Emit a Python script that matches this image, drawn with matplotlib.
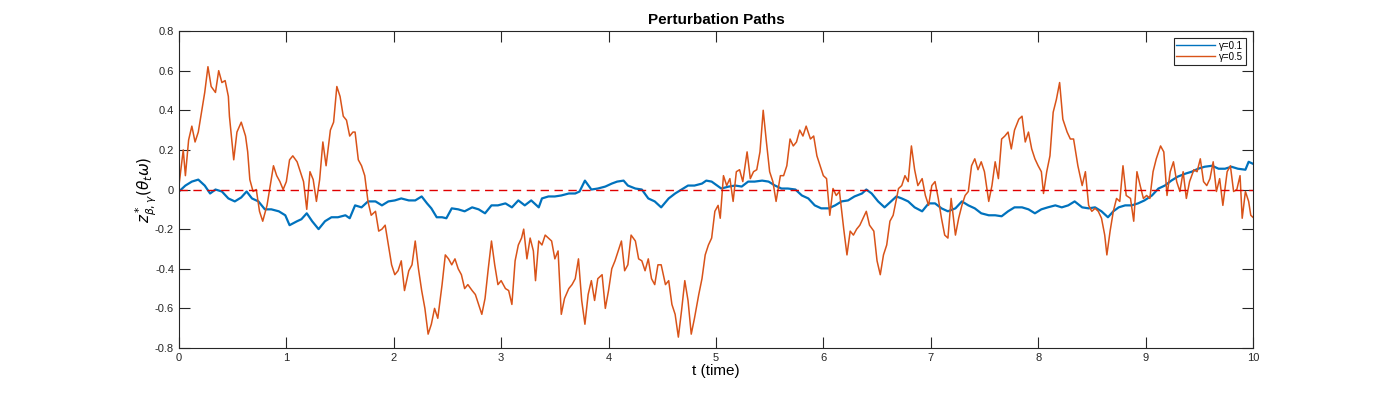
import numpy as np
import matplotlib
matplotlib.use("Agg")
import matplotlib.pyplot as plt

plt.rcParams['font.family'] = ['Liberation Sans', 'DejaVu Sans']
plt.rcParams['axes.unicode_minus'] = False

# gamma = 0.5 path
t_orange = [0.00, 0.04, 0.06, 0.09, 0.12, 0.15, 0.18, 0.21, 0.24, 0.27, 0.30, 0.34, 0.37, 0.40, 0.43, 0.46, 0.47, 0.51, 0.54, 0.58,
            0.62, 0.64, 0.66, 0.69, 0.72, 0.75, 0.78, 0.82, 0.85, 0.88, 0.91, 0.94, 0.97, 1.00, 1.03, 1.06, 1.10, 1.13, 1.16, 1.19,
            1.22, 1.25, 1.28, 1.31, 1.34, 1.37, 1.41, 1.44, 1.47, 1.50, 1.53, 1.56, 1.59, 1.62,
            1.64, 1.67, 1.70, 1.73, 1.76, 1.79, 1.83, 1.86, 1.89, 1.92, 1.95, 1.98, 2.01, 2.04, 2.07, 2.10, 2.14, 2.17, 2.20, 2.23,
            2.26, 2.29, 2.32, 2.35, 2.38, 2.41, 2.45, 2.48, 2.51, 2.54, 2.57, 2.60, 2.63, 2.66, 2.69, 2.73, 2.76, 2.79, 2.82, 2.85,
            2.88, 2.91, 2.94, 2.97, 3.00, 3.04, 3.07, 3.10, 3.13, 3.16, 3.19, 3.21, 3.24, 3.27, 3.30,
            3.32, 3.35, 3.38, 3.41, 3.44, 3.47, 3.50, 3.53, 3.56, 3.59, 3.63, 3.66, 3.69, 3.72, 3.75, 3.78, 3.81, 3.84, 3.87, 3.90,
            3.94, 3.97, 4.00, 4.03, 4.06, 4.09, 4.12, 4.15, 4.18, 4.21, 4.25, 4.28, 4.31, 4.34, 4.37, 4.40, 4.43, 4.46, 4.49, 4.53,
            4.56, 4.59, 4.62, 4.65, 4.68, 4.71, 4.74, 4.77, 4.80, 4.84, 4.87, 4.90, 4.93, 4.96,
            4.99, 5.02, 5.04, 5.07, 5.10, 5.13, 5.16, 5.19, 5.22, 5.25, 5.29, 5.32, 5.35, 5.38, 5.41, 5.44, 5.47, 5.50, 5.53, 5.56,
            5.60, 5.63, 5.66, 5.69, 5.72, 5.75, 5.78, 5.81, 5.84, 5.88, 5.91, 5.94, 5.97, 6.00, 6.03, 6.06, 6.09, 6.12, 6.15, 6.19,
            6.22, 6.25, 6.28, 6.31, 6.34, 6.37, 6.40, 6.43, 6.47, 6.50, 6.53, 6.56, 6.59, 6.62, 6.65,
            6.70, 6.73, 6.76, 6.79, 6.82, 6.85, 6.88, 6.92, 6.95, 6.98, 7.01, 7.04, 7.07, 7.10, 7.13, 7.16, 7.19, 7.23, 7.26, 7.29,
            7.32, 7.35, 7.38, 7.41, 7.44, 7.47, 7.50, 7.54, 7.57, 7.60, 7.63, 7.66, 7.69, 7.72, 7.75, 7.78, 7.82, 7.85, 7.88, 7.91,
            7.94, 7.97, 8.00, 8.03, 8.05, 8.08, 8.11, 8.14, 8.17, 8.20, 8.23, 8.27, 8.30, 8.33,
            8.37, 8.41, 8.44, 8.47, 8.50, 8.53, 8.56, 8.59, 8.62, 8.64, 8.67, 8.70, 8.73, 8.76, 8.79, 8.82, 8.86, 8.89, 8.92, 8.95,
            8.98, 9.01, 9.04, 9.07, 9.10, 9.14, 9.17, 9.20, 9.23, 9.26, 9.29, 9.32, 9.35, 9.38, 9.41, 9.45, 9.48, 9.51, 9.54, 9.57,
            9.60, 9.63, 9.66, 9.69, 9.72, 9.76, 9.79, 9.82, 9.85, 9.88, 9.90, 9.93, 9.96, 9.98, 10.00]
z_orange = [0.02, 0.20, 0.07, 0.25, 0.32, 0.24, 0.29, 0.39, 0.49, 0.62, 0.52, 0.49, 0.60, 0.54, 0.55, 0.47, 0.37, 0.15, 0.29, 0.34,
            0.27, 0.19, 0.05, -0.01, 0.00, -0.11, -0.16, -0.08, 0.02, 0.12, 0.07, 0.04, 0.00, 0.04, 0.15, 0.17, 0.14, 0.09, 0.04, -0.10,
            0.09, 0.05, -0.06, 0.05, 0.24, 0.12, 0.30, 0.34, 0.52, 0.47, 0.37, 0.35, 0.27, 0.29,
            0.29, 0.15, 0.12, 0.07, -0.06, -0.13, -0.11, -0.21, -0.20, -0.18, -0.28, -0.38, -0.43, -0.41, -0.36, -0.51, -0.41, -0.38, -0.26, -0.40,
            -0.51, -0.60, -0.73, -0.68, -0.60, -0.65, -0.48, -0.33, -0.35, -0.38, -0.35, -0.40, -0.43, -0.50, -0.48, -0.51, -0.53, -0.58, -0.63, -0.55,
            -0.40, -0.26, -0.38, -0.48, -0.46, -0.50, -0.51, -0.58, -0.36, -0.28, -0.245, -0.20, -0.35, -0.245, -0.31,
            -0.46, -0.26, -0.28, -0.23, -0.245, -0.26, -0.35, -0.31, -0.63, -0.55, -0.50, -0.48, -0.45, -0.35, -0.56, -0.68, -0.53, -0.46, -0.56, -0.45,
            -0.43, -0.60, -0.51, -0.40, -0.36, -0.31, -0.26, -0.41, -0.38, -0.23, -0.26, -0.35, -0.36, -0.41, -0.35, -0.45, -0.48, -0.38, -0.38, -0.48,
            -0.46, -0.58, -0.63, -0.745, -0.61, -0.46, -0.56, -0.73, -0.65, -0.53, -0.45, -0.33, -0.28, -0.245,
            -0.11, -0.08, -0.145, 0.07, 0.02, 0.055, -0.06, 0.09, 0.10, 0.04, 0.19, 0.055, 0.09, 0.10, 0.19, 0.40, 0.24, 0.09, 0.04, -0.06,
            0.07, 0.07, 0.12, 0.255, 0.22, 0.24, 0.30, 0.27, 0.32, 0.255, 0.27, 0.17, 0.12, 0.07, 0.055, -0.13, 0.005, -0.03, -0.01, -0.20,
            -0.33, -0.21, -0.23, -0.20, -0.18, -0.145, -0.11, -0.18, -0.21, -0.36, -0.43, -0.33, -0.28, -0.16, -0.13,
            0.005, 0.02, 0.07, 0.04, 0.22, 0.10, 0.02, 0.055, -0.03, -0.08, 0.02, 0.04, -0.045, -0.145, -0.23, -0.245, -0.045, -0.23, -0.145, -0.08,
            -0.03, -0.01, 0.12, 0.155, 0.10, 0.14, 0.09, -0.06, 0.02, 0.14, 0.055, 0.255, 0.27, 0.29, 0.205, 0.30, 0.355, 0.37, 0.24, 0.29,
            0.205, 0.155, 0.12, 0.09, -0.02, 0.09, 0.17, 0.39, 0.455, 0.54, 0.355, 0.29, 0.255, 0.255,
            0.12, 0.02, 0.09, -0.08, -0.11, -0.095, -0.11, -0.145, -0.23, -0.33, -0.21, -0.11, -0.045, -0.06, 0.12, -0.03, -0.045, -0.16, 0.09, 0.02,
            -0.045, -0.03, -0.045, 0.09, 0.155, 0.22, 0.19, -0.03, 0.09, 0.14, 0.04, -0.01, 0.09, -0.045, 0.04, 0.10, 0.09, 0.155, 0.04, 0.02,
            0.055, 0.14, -0.01, 0.055, -0.08, 0.09, 0.12, -0.01, 0.00, 0.07, -0.145, -0.01, -0.06, -0.13, -0.14]

# gamma = 0.1 path
t_blue = [0.00, 0.06, 0.12, 0.18, 0.24, 0.29, 0.34, 0.40, 0.46, 0.52, 0.58, 0.63, 0.68, 0.74, 0.80, 0.86, 0.93, 0.99, 1.03, 1.10,
          1.14, 1.19, 1.24, 1.30, 1.36, 1.42, 1.48, 1.55, 1.59, 1.64,
          1.70, 1.76, 1.83, 1.89, 1.95, 2.01, 2.07, 2.14, 2.20, 2.26, 2.31, 2.35, 2.40, 2.45, 2.49, 2.54, 2.60, 2.66, 2.73, 2.79,
          2.85, 2.91, 2.97, 3.04, 3.10, 3.16, 3.22, 3.28,
          3.35, 3.38, 3.44, 3.50, 3.56, 3.63, 3.69, 3.73, 3.78, 3.84, 3.90, 3.97, 4.03, 4.08, 4.14, 4.18, 4.25, 4.31, 4.37, 4.43,
          4.49, 4.56, 4.62, 4.68, 4.74, 4.80, 4.87, 4.91, 4.96,
          5.05, 5.12, 5.18, 5.24, 5.30, 5.36, 5.43, 5.49, 5.55, 5.61, 5.67, 5.74, 5.80, 5.86, 5.92, 5.98, 6.05, 6.11, 6.17, 6.23,
          6.29, 6.36, 6.40, 6.45, 6.51, 6.57, 6.64, 6.68,
          6.73, 6.79, 6.85, 6.92, 6.98, 7.04, 7.10, 7.16, 7.23, 7.29, 7.35, 7.41, 7.47, 7.54, 7.60, 7.66, 7.72, 7.78, 7.85, 7.91,
          7.97, 8.03, 8.09, 8.16, 8.22, 8.28, 8.34,
          8.41, 8.47, 8.53, 8.59, 8.65, 8.70, 8.75, 8.81, 8.87, 8.93, 8.99, 9.06, 9.12, 9.18, 9.24, 9.30, 9.37, 9.43, 9.49, 9.55,
          9.62, 9.68, 9.74, 9.80, 9.86, 9.93, 9.96, 10.00]
z_blue = [-0.01, 0.02, 0.04, 0.05, 0.02, -0.02, 0.00, -0.01, -0.045, -0.06, -0.04, -0.01, -0.045, -0.06, -0.10, -0.10, -0.11, -0.13, -0.18, -0.16,
          -0.15, -0.12, -0.16, -0.20, -0.16, -0.14, -0.14, -0.13, -0.145, -0.08,
          -0.09, -0.06, -0.06, -0.08, -0.06, -0.055, -0.045, -0.055, -0.055, -0.035, -0.07, -0.095, -0.14, -0.14, -0.145, -0.095, -0.10, -0.11, -0.09, -0.10,
          -0.12, -0.08, -0.08, -0.07, -0.09, -0.055, -0.08, -0.055,
          -0.09, -0.045, -0.035, -0.035, -0.03, -0.02, -0.02, -0.01, 0.045, 0.00, 0.005, 0.015, 0.03, 0.04, 0.045, 0.02, 0.005, 0.00, -0.045, -0.06,
          -0.09, -0.045, -0.02, 0.00, 0.02, 0.02, 0.03, 0.045, 0.04,
          0.005, 0.015, 0.02, 0.015, 0.04, 0.04, 0.045, 0.04, 0.02, 0.005, 0.005, 0.00, -0.03, -0.045, -0.08, -0.095, -0.095, -0.08, -0.06, -0.055,
          -0.035, -0.02, 0.00, -0.02, -0.06, -0.09, -0.055, -0.035,
          -0.045, -0.06, -0.09, -0.11, -0.07, -0.07, -0.095, -0.11, -0.095, -0.06, -0.08, -0.095, -0.12, -0.13, -0.13, -0.135, -0.11, -0.09, -0.09, -0.10,
          -0.12, -0.10, -0.09, -0.08, -0.09, -0.08, -0.06,
          -0.09, -0.095, -0.09, -0.11, -0.14, -0.11, -0.09, -0.08, -0.08, -0.07, -0.055, -0.03, 0.005, 0.02, 0.045, 0.065, 0.08, 0.09, 0.105, 0.115,
          0.12, 0.105, 0.105, 0.115, 0.105, 0.10, 0.14, 0.13]

labels = ['γ=0.1', 'γ=0.5']
yticks = [-0.8, -0.6, -0.4, -0.2, 0, 0.2, 0.4, 0.6, 0.8]
yticklabels = ['-0.8', '-0.6', '-0.4', '-0.2', '0', '0.2', '0.4', '0.6', '0.8']

fig = plt.figure(figsize=(13.84, 3.93), dpi=100)
ax = fig.add_axes([0.1293, 0.1145, 0.776, 0.8065])

ax.plot(t_blue, z_blue, color='#0072BD', lw=1.6, label=labels[0])
ax.plot(t_orange, z_orange, color='#D95319', lw=1.1, label=labels[1])
ax.axhline(0, color='#E00000', lw=1.0, ls=(0, (6, 4)))

ax.set_xlim(0, 10)
ax.set_ylim(-0.8, 0.8)
ax.set_xticks(np.arange(0, 11, 1))
ax.set_yticks(yticks)
ax.set_yticklabels(yticklabels)
ax.tick_params(direction='in', length=7.7, width=0.8, top=True, right=True, labelsize=8, colors='#262626')
for s in ax.spines.values():
    s.set_color('#262626')
    s.set_linewidth(0.8)

ax.set_title('Perturbation Paths', fontsize=11, fontweight='bold', pad=5)
ax.set_xlabel('t (time)', fontsize=11, labelpad=1)
ax.set_ylabel(r'$z^*_{\beta,\gamma}(\theta_t\omega)$', fontsize=11, labelpad=-3)

leg = ax.legend(loc='upper right', fontsize=7, handlelength=4, frameon=True, fancybox=False,
                edgecolor='#262626', framealpha=1, borderpad=0.3, labelspacing=0.1,
                handletextpad=0.4, borderaxespad=0.7)
leg.get_frame().set_linewidth(0.8)
for line in leg.get_lines():
    line.set_linewidth(1.0)

fig.savefig('out.png', dpi=100)
